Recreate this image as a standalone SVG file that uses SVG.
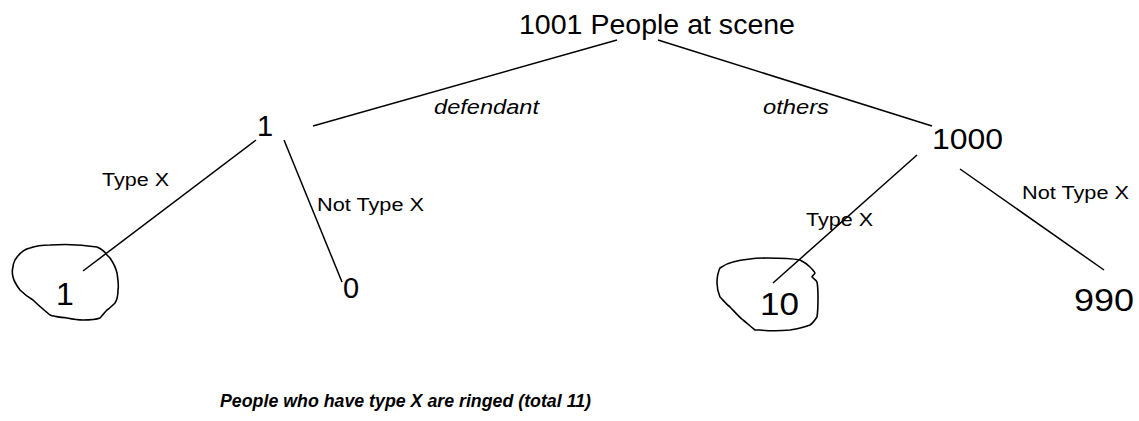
<svg xmlns="http://www.w3.org/2000/svg" width="1139" height="421" viewBox="0 0 1139 421">
<style>
text{font-family:"Liberation Sans",Arial,sans-serif;fill:#000}
.num{font-size:29px}
.big{font-size:32px}
.title{font-size:27px}
.lab{font-size:18px}
.it{font-size:20px;font-style:italic}
.cap{font-size:18px;font-style:italic;font-weight:bold}
.ln{stroke:#000;stroke-width:1.5;fill:none}
.ring{stroke:#000;stroke-width:1.6;fill:none;stroke-linejoin:round}
</style>
<rect width="1139" height="421" fill="#fff"/>
<g id="connectors">
<line class="ln" x1="617" y1="40" x2="313" y2="126"/>
<line class="ln" x1="658" y1="40" x2="932" y2="126"/>
<line class="ln" x1="256" y1="140" x2="83" y2="271"/>
<line class="ln" x1="284" y1="140" x2="342" y2="282"/>
<line class="ln" x1="917" y1="155" x2="773" y2="283"/>
<line class="ln" x1="960" y1="169" x2="1104" y2="270"/>
<text class="it" x="434" y="114" textLength="105" lengthAdjust="spacingAndGlyphs">defendant</text>
<text class="it" x="763" y="114" textLength="66" lengthAdjust="spacingAndGlyphs">others</text>
<text class="lab" x="102" y="186" textLength="67" lengthAdjust="spacingAndGlyphs">Type X</text>
<text class="lab" x="317" y="211" textLength="107" lengthAdjust="spacingAndGlyphs">Not Type X</text>
<text class="lab" x="806" y="226" textLength="67" lengthAdjust="spacingAndGlyphs">Type X</text>
<text class="lab" x="1022" y="199" textLength="107" lengthAdjust="spacingAndGlyphs">Not Type X</text>
</g>
<g id="root"><text class="title" x="519" y="34" textLength="276" lengthAdjust="spacingAndGlyphs">1001 People at scene</text></g>
<g id="defendant"><text class="num" x="257" y="136">1</text></g>
<g id="others"><text class="num" x="932" y="149" textLength="71" lengthAdjust="spacingAndGlyphs">1000</text></g>
<g id="def-typex">
<path class="ring" d="M15,260 C20,252 25,249 30,248 C38,245 45,245 50,245 C65,244 85,245 97,247 C102,249 105,252 107,255 L110,258 C114,264 116,268 117,273 C118,280 119,285 118,290 C118,296 117,300 115,303 C112,306 110,308 107,310 C104,313 102,316 100,318 C95,320 88,320 83,320 C77,320 72,319 67,318 C60,317 55,317 50,315 C44,310 38,305 33,300 C28,297 24,294 20,290 C17,286 14,282 13,277 C12,273 12,270 13,267 C13,264 14,262 15,260 Z"/>
<text class="big" x="56" y="305">1</text>
</g>
<g id="def-nottypex"><text class="num" x="343" y="298">0</text></g>
<g id="oth-typex">
<path class="ring" d="M720,268 C724,265 728,263 733,262 C745,259 756,258 767,258 C778,258 790,258 800,260 C804,262 807,264 810,267 C812,269 814,271 815,273 C814,275 812,276 812,277 C814,279 816,280 817,282 C818,287 818,292 818,297 C818,304 818,311 817,317 C815,320 813,323 810,325 C803,328 796,329 790,330 C780,331 770,331 760,330 L755,330 C751,327 747,323 743,320 C738,316 734,311 730,307 C726,304 723,300 720,297 C718,292 717,288 717,283 C717,277 718,272 720,268 Z"/>
<text class="big" x="760" y="315" textLength="39" lengthAdjust="spacingAndGlyphs">10</text>
</g>
<g id="oth-nottypex"><text class="big" x="1074" y="311" textLength="60" lengthAdjust="spacingAndGlyphs">990</text></g>
<g id="caption"><text class="cap" x="220" y="407" textLength="371" lengthAdjust="spacingAndGlyphs">People who have type X are ringed (total 11)</text></g>
</svg>
